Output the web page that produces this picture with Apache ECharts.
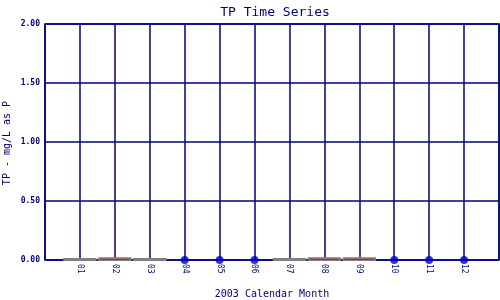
<!DOCTYPE html>
<html><head><meta charset="utf-8">
<script src="https://cdn.jsdelivr.net/npm/echarts@6/dist/echarts.min.js"></script>
<style>html,body{margin:0;padding:0;background:#fff}#c{width:500px;height:300px}</style>
</head><body><div id="c"></div>
<script>
// Box data (months with samples)
var boxMonths = [1, 2, 3, 7, 8, 9];
var boxLow    = [0, 0, 0, 0, 0, 0];
var boxMedian = [0, 0.006, 0, 0, 0.006, 0.006];
var boxHigh   = [0, 0.014, 0, 0, 0.014, 0.014];
// Single-value months
var dotMonths = [4, 5, 6, 10, 11, 12];
var dotValues = [0, 0, 0, 0, 0, 0];
var monthLabels = ['01','02','03','04','05','06','07','08','09','10','11','12'];
var yAxisTitle = 'TP - mg/L as P';

var NAVY = '#000080';
var FONT = 'DejaVu Sans Mono';
var chart = echarts.init(document.getElementById('c'), null, {renderer: 'canvas'});
chart.setOption({
  animation: false,
  backgroundColor: '#fff',
  title: {text: 'TP Time Series', left: 270, top: 1, textAlign: 'center',
    textStyle: {fontFamily: FONT, fontSize: 13, fontWeight: 'normal', color: NAVY}},
  grid: {left: 45, right: 1, top: 24, bottom: 40, containLabel: false, outerBoundsMode: 'none',
    show: true, borderColor: NAVY, borderWidth: 1.5},
  graphic: [{type: 'text', x: 7, y: 143, rotation: Math.PI / 2,
    style: {text: yAxisTitle, fontFamily: FONT, fontSize: 10, fill: NAVY,
      align: 'center', verticalAlign: 'middle'}}],
  xAxis: {type: 'value', min: 0, max: 13, interval: 1,
    name: '2003 Calendar Month', nameLocation: 'middle', nameGap: 29, nameMoveOverlap: false,
    nameTextStyle: {fontFamily: FONT, fontSize: 10, color: NAVY},
    axisLine: {show: false}, axisTick: {show: false},
    splitLine: {show: true, lineStyle: {color: NAVY, width: 1.5}},
    axisLabel: {rotate: -90, margin: 4, fontFamily: FONT, fontSize: 8, color: NAVY,
      formatter: function (v) { return (v >= 1 && v <= 12) ? monthLabels[v - 1] : ''; }}},
  yAxis: {type: 'value', min: 0, max: 2, interval: 0.5,
    axisLine: {show: false}, axisTick: {show: false},
    splitLine: {show: true, lineStyle: {color: NAVY, width: 1.5}},
    axisLabel: {margin: 5, fontFamily: FONT, fontSize: 8, fontWeight: 'bold', color: NAVY,
      formatter: function (v) { return v.toFixed(2); }}},
  series: [
    {type: 'custom', z: 3,
      data: boxMonths.map(function (m, i) { return [m, boxLow[i], boxMedian[i], boxHigh[i]]; }),
      encode: {x: 0, y: [1, 2, 3]},
      renderItem: function (params, api) {
        var x = api.value(0);
        var pL = api.coord([x - 0.45, api.value(1)]);
        var pR = api.coord([x + 0.45, api.value(3)]);
        var mL = api.coord([x - 0.42, api.value(2)]);
        var mR = api.coord([x + 0.42, api.value(2)]);
        var h = Math.max(pL[1] - pR[1], 1);
        var children = [{type: 'rect',
          shape: {x: pL[0], y: pL[1] - h, width: pR[0] - pL[0], height: h},
          style: {fill: '#808080', stroke: '#808080', lineWidth: 2}}];
        if (api.value(3) > api.value(1)) {
          children.push({type: 'line', shape: {x1: mL[0], y1: mL[1], x2: mR[0], y2: mR[1]},
            style: {stroke: '#ff0000', lineWidth: 1}});
        }
        return {type: 'group', children: children};
      }},
    {type: 'scatter', z: 4, symbol: 'circle', symbolSize: 8,
      itemStyle: {color: '#0000c8'},
      data: dotMonths.map(function (m, i) { return [m, dotValues[i]]; })}
  ]
});
</script></body></html>
